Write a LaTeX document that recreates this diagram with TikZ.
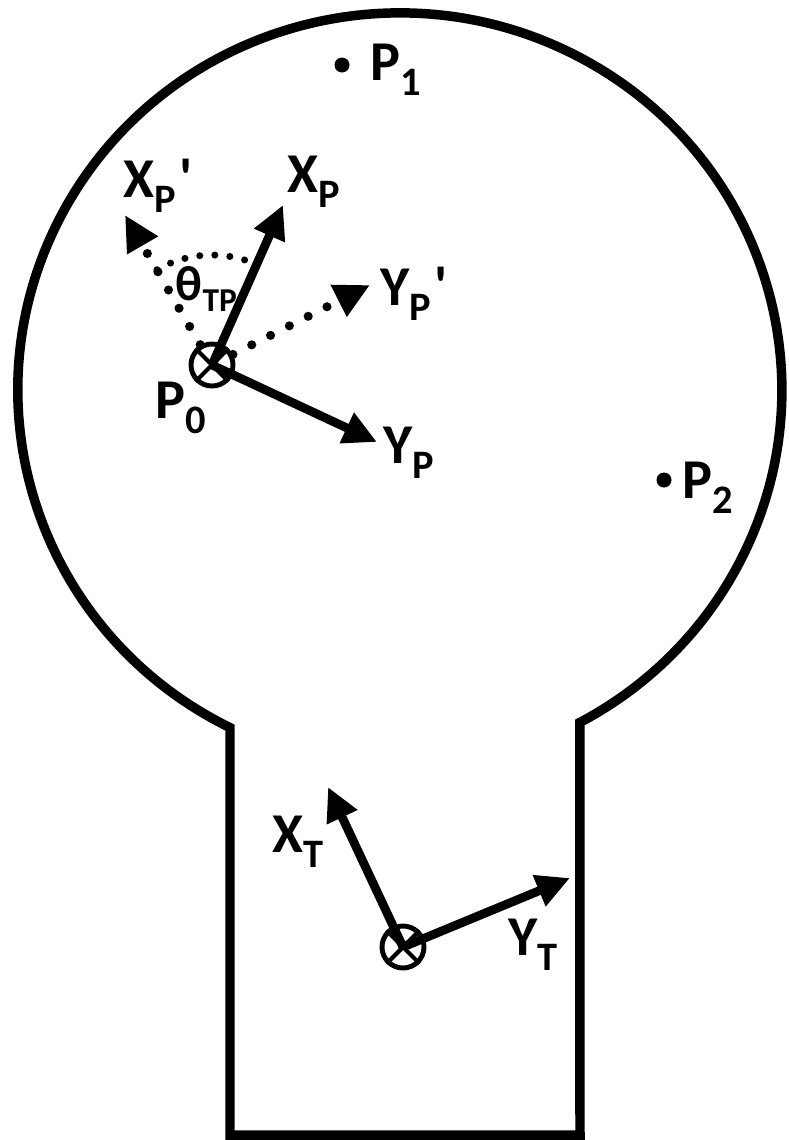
\documentclass[tikz,border=0pt]{standalone}
\usepackage{fontspec}
\setmainfont{Carlito}
\usetikzlibrary{arrows.meta, calc}
\newcommand{\sublbl}[2]{#1\raisebox{-4.5pt}{\fontsize{11.5}{12}\selectfont #2}}

\begin{document}
\begin{tikzpicture}[
  outline/.style={line width=2.7pt, line join=miter},
  origin/.style={circle, draw, line width=1.4pt, minimum size=0.42cm, inner sep=0pt},
  axis/.style={line width=2.5pt, -{Triangle[length=9.5pt,width=9pt]}},
  dotaxis/.style={line width=2.6pt, dash pattern=on 0pt off 6pt, line cap=round, -{Triangle[length=10pt,width=9.5pt]}},
  angarc/.style={line width=2pt, dash pattern=on 0pt off 4.3pt, line cap=round},
  ptdot/.style={circle, fill, inner sep=0pt, minimum size=0.15cm},
  lbl/.style={anchor=base west, inner sep=0pt, font=\fontsize{16}{18}\selectfont\bfseries}
]
\useasboundingbox (0,0) rectangle (7.89,-11.40);

% Outline: bulb and neck
\draw[outline] (2.30,-11.35) -- (2.30,-7.276)
  arc[start angle=243.6, end angle=-61.9, x radius=3.82, y radius=3.77]
  -- (5.80,-11.35) -- cycle;

% Points
\node[ptdot] (dotP1) at (3.42,-0.65) {};
\node[ptdot] (dotP2) at (6.64,-4.80) {};
\node[lbl] (lblP1) at (3.70,-0.80) {\sublbl{P}{1}};
\node[lbl] (lblP2) at (6.82,-4.98) {\sublbl{P}{2}};

% Frame at P0
\node[origin] (orgP) at (2.12,-3.65) {};
\draw[line width=1.2pt] (orgP.45) -- (orgP.225) (orgP.135) -- (orgP.315);
\coordinate (tipXP) at (2.83,-2.05);
\coordinate (tipYP) at (3.77,-4.42);
\coordinate (tipXPp) at (1.25,-2.15);
\coordinate (tipYPp) at (3.70,-2.85);
\draw[axis] (orgP.center) -- (tipXP);
\draw[axis] (orgP.center) -- (tipYP);
\draw[dotaxis] (orgP) -- (tipXPp);
\draw[dotaxis] (orgP) -- (tipYPp);
\draw[angarc] ($(orgP.center)+(120:1.1)$) arc[start angle=120, end angle=70, radius=1.1];

\node[lbl] (lblXP) at (2.87,-1.92) {\sublbl{X}{P}};
\node[lbl] (lblXPp) at (1.23,-1.97) {\sublbl{X}{P}\kern1pt\textquotesingle};
\node[lbl] (lblYPp) at (3.80,-3.05) {\sublbl{Y}{P}\kern1pt\textquotesingle};
\node[lbl] (lblYP) at (3.83,-4.63) {\sublbl{Y}{P}};
\node[lbl] (lblP0) at (1.55,-4.18) {\sublbl{P}{0}};
\node[lbl, font=\fontsize{14}{16}\selectfont\bfseries] (lblTheta) at (1.75,-3.00)
  {θ\raisebox{-3.4pt}{\fontsize{9.5}{10}\selectfont TP}};

% Frame at T
\node[origin] (orgT) at (4.03,-9.47) {};
\draw[line width=1.2pt] (orgT.45) -- (orgT.225) (orgT.135) -- (orgT.315);
\coordinate (tipXT) at (3.28,-7.87);
\coordinate (tipYT) at (5.70,-8.78);
\draw[axis] (orgT.center) -- (tipXT);
\draw[axis] (orgT.center) -- (tipYT);
\node[lbl] (lblXT) at (2.72,-8.52) {\sublbl{X}{T}};
\node[lbl] (lblYT) at (5.08,-9.55) {\sublbl{Y}{T}};

\end{tikzpicture}
\end{document}
